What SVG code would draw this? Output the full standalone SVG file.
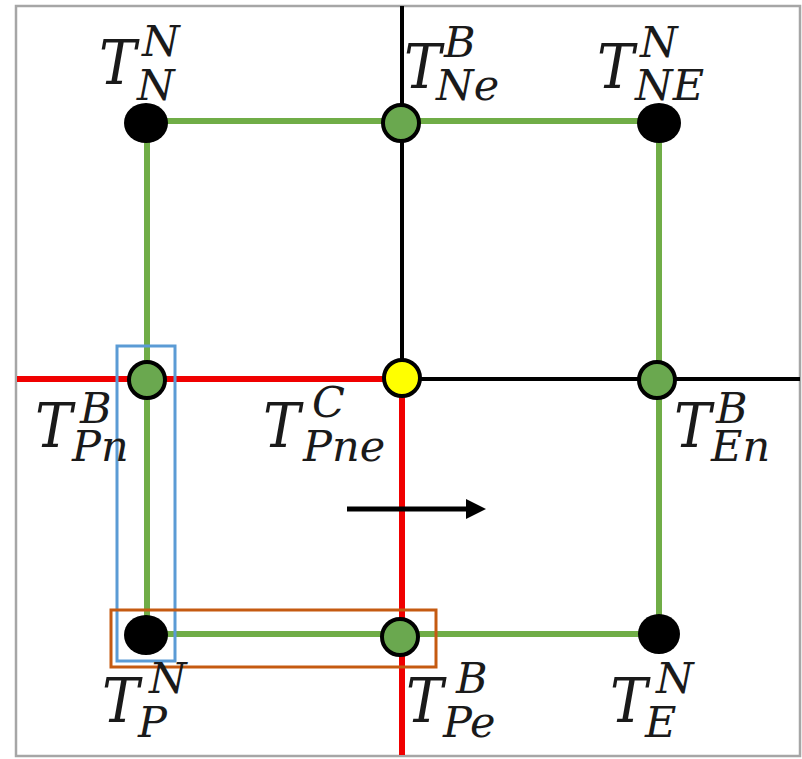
<svg xmlns="http://www.w3.org/2000/svg" width="802" height="759" viewBox="0 0 802 759">
<style>
.g{stroke:#70AD47;stroke-width:6;fill:none}
.r{stroke:#F00000;stroke-width:6;fill:none}
.k{stroke:#000;stroke-width:4;fill:none}
.nb{fill:#000}
.ng{fill:#6AA84F;stroke:#000;stroke-width:4}
.ny{fill:#FFFF00;stroke:#000;stroke-width:4}
.lbl{font-family:"DejaVu Serif",serif;font-style:italic;fill:#1a1a1a}
.T{font-size:62px;font-stretch:condensed}
.s{font-size:43px}
</style>
<rect x="0" y="0" width="802" height="759" fill="#fff"/>
<rect x="16" y="6" width="784" height="750" fill="none" stroke="#A6A6A6" stroke-width="2.5"/>
<g id="connectors">
<line class="g" x1="147" y1="121" x2="659" y2="121"/>
<line class="g" x1="147" y1="121" x2="147" y2="634"/>
<line class="g" x1="659" y1="121" x2="659" y2="634"/>
<line class="g" x1="147" y1="634" x2="659" y2="634"/>
<line class="k" x1="402" y1="6" x2="402" y2="379"/>
<line class="k" x1="402" y1="379" x2="800" y2="379"/>
<line class="r" x1="17" y1="379" x2="402" y2="379"/>
<line class="r" x1="402" y1="379" x2="402" y2="755"/>
<line x1="347" y1="509" x2="467" y2="509" stroke="#000" stroke-width="5"/>
<path d="M466,499 L486,509 L466,519 Z" fill="#000"/>
</g>
<rect id="blue-box" x="117" y="346" width="58" height="315" fill="none" stroke="#5B9BD5" stroke-width="3"/>
<rect id="orange-box" x="111" y="610" width="325" height="57" fill="none" stroke="#C55A11" stroke-width="3"/>
<g id="TNN">
<ellipse class="nb" cx="146" cy="123" rx="22" ry="20"/>
<text class="lbl"><tspan class="T" x="99" y="84">T</tspan><tspan class="s" x="142" y="56">N</tspan><tspan class="s" x="137" y="100">N</tspan></text>
</g>
<g id="TNeB">
<circle class="ng" cx="401" cy="123" r="18"/>
<text class="lbl"><tspan class="T" x="404" y="88">T</tspan><tspan class="s" x="444" y="57">B</tspan><tspan class="s" x="436" y="100">Ne</tspan></text>
</g>
<g id="TNEN">
<ellipse class="nb" cx="659" cy="123" rx="22" ry="20"/>
<text class="lbl"><tspan class="T" x="597" y="88">T</tspan><tspan class="s" x="640" y="57">N</tspan><tspan class="s" x="635" y="100">NE</tspan></text>
</g>
<g id="TPnB">
<circle class="ng" cx="147" cy="380" r="18"/>
<text class="lbl"><tspan class="T" x="35" y="447">T</tspan><tspan class="s" x="80" y="423">B</tspan><tspan class="s" x="72" y="461">Pn</tspan></text>
</g>
<g id="TPneC">
<circle class="ny" cx="402" cy="378" r="18"/>
<text class="lbl"><tspan class="T" x="263" y="447">T</tspan><tspan class="s" x="312" y="417">C</tspan><tspan class="s" x="303" y="461">Pne</tspan></text>
</g>
<g id="TEnB">
<circle class="ng" cx="657" cy="380" r="18"/>
<text class="lbl"><tspan class="T" x="674" y="447">T</tspan><tspan class="s" x="716" y="423">B</tspan><tspan class="s" x="711" y="461">En</tspan></text>
</g>
<g id="TPN">
<ellipse class="nb" cx="146" cy="635" rx="22" ry="20"/>
<text class="lbl"><tspan class="T" x="102" y="722">T</tspan><tspan class="s" x="149" y="693">N</tspan><tspan class="s" x="138" y="737">P</tspan></text>
</g>
<g id="TPeB">
<circle class="ng" cx="400" cy="637" r="18"/>
<text class="lbl"><tspan class="T" x="406" y="722">T</tspan><tspan class="s" x="456" y="693">B</tspan><tspan class="s" x="443" y="737">Pe</tspan></text>
</g>
<g id="TEN">
<ellipse class="nb" cx="659" cy="634" rx="21" ry="20"/>
<text class="lbl"><tspan class="T" x="610" y="722">T</tspan><tspan class="s" x="656" y="693">N</tspan><tspan class="s" x="645" y="737">E</tspan></text>
</g>
</svg>
